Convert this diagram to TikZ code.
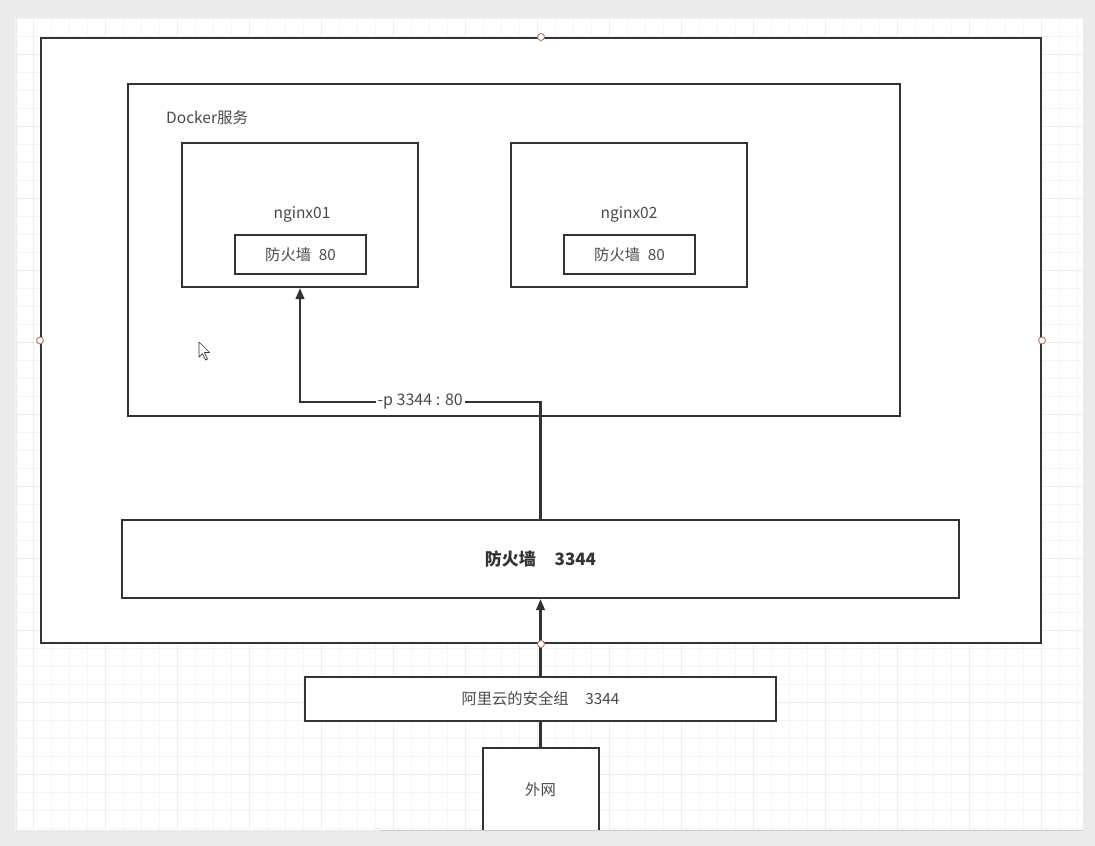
\documentclass[tikz,border=0pt]{standalone}
\usepackage{fontspec}
\setmainfont{Noto Sans CJK SC}
\usetikzlibrary{arrows.meta}
\definecolor{linec}{HTML}{333333}
\definecolor{textc}{HTML}{4A4A4A}
\definecolor{handlec}{HTML}{B07878}
\tikzset{
  box/.style={draw=linec, line width=2, fill=white, rectangle, inner sep=0pt, text=textc, font=\fontsize{15.3}{17}\selectfont},
  lbl/.style={text=textc, font=\fontsize{15.5}{17}\selectfont, inner sep=0pt},
  conn/.style={draw=linec, line width=2.3},
  arr/.style={conn, -{Triangle[length=11,width=8.5]}},
  handle/.style={circle, draw=handlec, fill=white, line width=0.9, minimum size=7, inner sep=0pt},
  gridminor/.style={draw=black!4, line width=0.6},
  gridmajor/.style={draw=black!7, line width=0.8},
}
\begin{document}
\begin{tikzpicture}[x=1pt,y=-1pt]
\useasboundingbox (0,0) rectangle (1095,846);
% screen background
\fill[black!8] (0,0) rectangle (1095,846);
\fill[white] (17,18) rectangle (1083,830);
\foreach \x in {15,33,...,1083} \draw[gridminor] (\x,18) -- (\x,830);
\foreach \y in {18,36,...,830} \draw[gridminor] (17,\y) -- (1083,\y);
\foreach \x in {33,105,...,1083} \draw[gridmajor] (\x,18) -- (\x,830);
\foreach \y in {54,126,...,830} \draw[gridmajor] (17,\y) -- (1083,\y);

% boxes
\node[box, minimum width=1000, minimum height=605] (outer) at (541,340.5) {};
\node[box, minimum width=772, minimum height=332] (docker) at (514,250) {};
\node[lbl, anchor=west] (dockerlbl) at (166,118) {Docker服务};

\node[box, minimum width=236, minimum height=144] (nginx01) at (300,215) {};
\node[lbl] (n1lbl) at (302,214) {nginx01};
\node[box, minimum width=131, minimum height=39] (fw01) at (300.5,254.5) {防火墙\hspace{0.5em}80};

\node[box, minimum width=236, minimum height=144] (nginx02) at (629,215) {};
\node[lbl] (n2lbl) at (629,214) {nginx02};
\node[box, minimum width=131, minimum height=39] (fw02) at (629.5,254.5) {防火墙\hspace{0.5em}80};

\node[box, minimum width=837, minimum height=78, text=linec, font=\fontsize{17}{19}\selectfont\bfseries] (fw) at (540.5,559) {防火墙\hspace{1.1em}3344};
\node[box, minimum width=471, minimum height=44] (aliyun) at (540.5,699) {阿里云的安全组\hspace{1.1em}3344};
\node[box, minimum width=116, minimum height=84] (wai) at (540.5,790) {外网};

% connectors
\draw[conn] (wai.north) -- (aliyun.south);
\draw[arr] (aliyun.north) -- (fw.south);
\draw[arr] (fw.north) -- ++(0,-117) -| (nginx01.south)
  node[pos=0.25, fill=white, text=textc, font=\fontsize{16}{18}\selectfont, inner sep=2pt] (plbl) {-p 3344 : 80};

% selection handles
\node[handle] (h1) at (outer.north) {};
\node[handle] (h2) at (outer.west) {};
\node[handle] (h3) at (outer.east) {};
\node[handle] (h4) at (outer.south) {};

% mouse cursor
\draw[linec, fill=white, line width=0.7, line join=round] (199,342) -- (199,357) -- (202.5,353.5) -- (205.5,360) -- (207.5,359) -- (204.5,352.5) -- (209.5,352.5) -- cycle;

% bottom strip
\fill[black!8] (0,830.5) rectangle (1095,846);
\draw[black!22, line width=1.2] (380,830.5) -- (1083,830.5);
\end{tikzpicture}
\end{document}
